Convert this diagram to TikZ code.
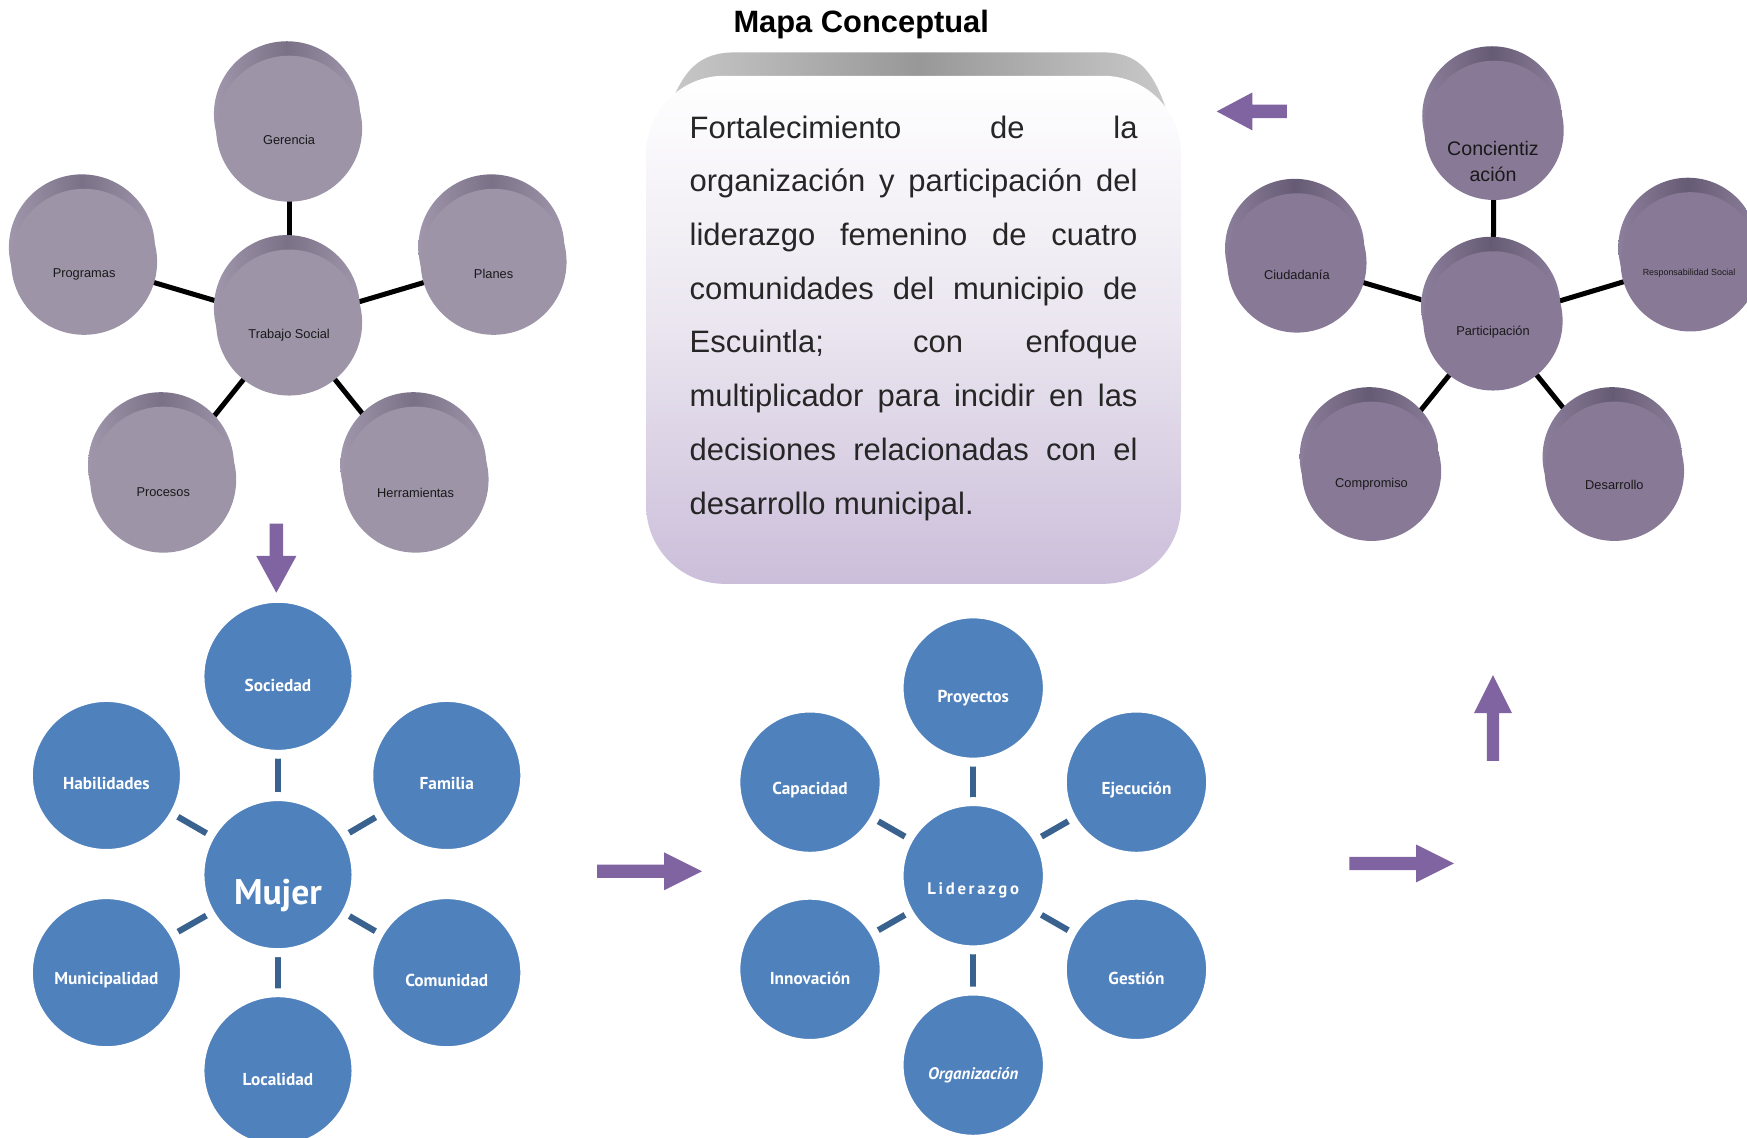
\documentclass[tikz,border=0pt]{standalone}
\usepackage{fontspec}
\setmainfont{Liberation Sans}
\newfontfamily\ptsans{PT Sans}
\usetikzlibrary{calc}
\pgfdeclarelayer{background}
\pgfsetlayers{background,main}
\definecolor{tlface}{RGB}{157,148,168}
\definecolor{tlext}{RGB}{122,113,135}
\definecolor{tledge}{RGB}{160,151,172}
\definecolor{trface}{RGB}{136,122,151}
\definecolor{trext}{RGB}{102,91,116}
\definecolor{tredge}{RGB}{140,127,156}
\definecolor{bluec}{RGB}{79,129,189}
\definecolor{barc}{RGB}{58,98,143}
\definecolor{arrowc}{RGB}{128,100,162}
\definecolor{boxbot}{RGB}{203,190,218}
\definecolor{boxmid}{RGB}{234,229,239}
\definecolor{tabc}{RGB}{152,152,152}
\definecolor{tabl}{RGB}{200,200,200}
\newcommand\cyl[5]{%
  \shade[left color=#5edge, right color=#5edge, middle color=#5ext] (#2-2,#3-13) circle[radius=#4];
  \node[circle, fill=#5face, minimum size=2*#4] (#1) at (#2,#3) {};
}
\begin{document}
\begin{tikzpicture}[x=1pt,y=-1pt,
  every node/.style={inner sep=0pt,outer sep=0pt},
  tltext/.style={text=black!90, font=\fontsize{11.5}{13}\selectfont},
  bl/.style={circle, fill=bluec, draw=white, line width=8pt, minimum size=140pt},
  bm/.style={circle, fill=bluec, draw=white, line width=8pt, minimum size=133pt},
  bltext/.style={text=white, font=\ptsans\bfseries\fontsize{15.5}{18}\selectfont},
  blackline/.style={line width=4.5pt, black},
  bar/.style={line width=5.5pt, barc},
  blockarrow/.style={fill=arrowc},
  bodytext/.style={anchor=base west, text=black!85, font=\fontsize{27.8}{30}\selectfont}]
\useasboundingbox (0,0) rectangle (1568,1021);

% ---------------- title and central box ----------------
\node[font=\fontsize{27.7}{30}\selectfont\bfseries] (title) at (773,22) {Mapa Conceptual};
\shade[left color=tabl, right color=tabl, middle color=tabc]
  (601,96) .. controls (614,62) and (628,47) .. (660,47) -- (990,47)
  .. controls (1020,47) and (1034,62) .. (1046,96) -- (1046,140) -- (601,140) -- cycle;
\node[rectangle, rounded corners=70pt, minimum width=480pt, minimum height=456pt,
      top color=white, bottom color=boxbot, middle color=boxmid] (box) at (820,296) {};
\node[bodytext] (l1) at (619,124) {\makebox[402pt][s]{Fortalecimiento de la}};
\node[bodytext] (l2) at (619,172.2) {\makebox[402pt][s]{organización y participación del}};
\node[bodytext] (l3) at (619,220.4) {\makebox[402pt][s]{liderazgo femenino de cuatro}};
\node[bodytext] (l4) at (619,268.6) {\makebox[402pt][s]{comunidades del municipio de}};
\node[bodytext] (l5) at (619,316.8) {\makebox[402pt][s]{Escuintla; con enfoque}};
\node[bodytext] (l6) at (619,365) {\makebox[402pt][s]{multiplicador para incidir en las}};
\node[bodytext] (l7) at (619,413.2) {\makebox[402pt][s]{decisiones relacionadas con el}};
\node[bodytext] (l8) at (619,461.4) {desarrollo municipal.};

% ---------------- top-left cluster ----------------
\cyl{ger}{259.5}{115.5}{65.5}{tl}
\cyl{prg}{75.5}{235}{65.5}{tl}
\cyl{pla}{443}{235}{65.5}{tl}
\cyl{ts}{259.5}{289.5}{65.5}{tl}
\cyl{pro}{146.5}{430.5}{65.5}{tl}
\cyl{her}{373}{430.5}{65.5}{tl}
\node[tltext] (gert) at (259.5,126) {Gerencia};
\node[tltext] (prgt) at (75.5,246) {Programas};
\node[tltext] (plat) at (443,246) {Planes};
\node[tltext] (tst) at (259.5,301) {Trabajo Social};
\node[tltext] (prot) at (146.5,442) {Procesos};
\node[tltext] (hert) at (373,442) {Herramientas};
\begin{pgfonlayer}{background}
  \foreach \n in {ger,prg,pla,pro,her} \draw[blackline] (ts.center) -- (\n.center);
\end{pgfonlayer}

% ---------------- top-right cluster ----------------
\cyl{con}{1341}{117}{62.5}{tr}
\cyl{ciu}{1164}{236}{62.5}{tr}
\cyl{res}{1517}{235}{62.5}{tr}
\cyl{par}{1340}{288}{62.5}{tr}
\cyl{com}{1231}{423}{62.5}{tr}
\cyl{des}{1449}{423}{62.5}{tr}
\node[align=center, text=black!90, font=\fontsize{17.6}{24}\selectfont] (cont) at (1340,145) {Concientiz\\ación};
\node[tltext] (ciut) at (1164,247) {Ciudadanía};
\node[text=black!90, font=\fontsize{8}{9}\selectfont] (rest) at (1516,245) {Responsabilidad Social};
\node[tltext] (part) at (1340,298) {Participación};
\node[tltext] (comt) at (1231,435) {Compromiso};
\node[tltext] (dest) at (1449,435) {Desarrollo};
\begin{pgfonlayer}{background}
  \foreach \n in {con,ciu,res,com,des} \draw[blackline] (par.center) -- (\n.center);
\end{pgfonlayer}

% ---------------- bottom-left cluster ----------------
\node[bl] (soc) at (249.5,607) {};
\node[bl] (hab) at (95.5,696) {};
\node[bl] (fam) at (401,696) {};
\node[bl] (muj) at (249.5,785) {};
\node[bl] (mun) at (95.5,873) {};
\node[bl] (comu) at (401,873) {};
\node[bl] (loc) at (249.5,961) {};
\node[bltext] (soct) at (249.5,615) {Sociedad};
\node[bltext] (habt) at (95.5,703) {Habilidades};
\node[bltext] (famt) at (401,703) {Familia};
\node[text=white, font=\ptsans\bfseries\fontsize{32}{36}\selectfont] (mujt) at (249.5,804) {Mujer};
\node[bltext] (munt) at (95.5,880) {Municipalidad};
\node[bltext] (comut) at (401,880) {Comunidad};
\node[bltext] (loct) at (249.5,969) {Localidad};
\begin{pgfonlayer}{background}
  \foreach \n in {soc,hab,fam,mun,comu,loc} \draw[bar] (muj.center) -- (\n.center);
\end{pgfonlayer}

% ---------------- bottom-middle cluster ----------------
\node[bm] (proy) at (873.5,617.5) {};
\node[bm] (cap) at (727,702) {};
\node[bm] (eje) at (1020,702) {};
\node[bm] (lid) at (873.5,786) {};
\node[bm] (inn) at (727,870) {};
\node[bm] (ges) at (1020,870) {};
\node[bm] (org) at (873.5,956) {};
\node[bltext] (proyt) at (873.5,627) {Proyectos};
\node[bltext] (capt) at (727,709) {Capacidad};
\node[bltext] (ejet) at (1020,709) {Ejecución};
\node[bltext, font=\ptsans\bfseries\fontsize{15}{18}\selectfont\addfontfeature{LetterSpace=16}] (lidt) at (873.5,799) {Liderazgo};
\node[bltext] (innt) at (727,878) {Innovación};
\node[bltext] (gest) at (1020,878) {Gestión};
\node[bltext, font=\ptsans\bfseries\itshape\fontsize{15}{18}\selectfont] (orgt) at (873.5,965) {Organización};
\begin{pgfonlayer}{background}
  \foreach \n in {proy,cap,eje,inn,ges,org} \draw[bar] (lid.center) -- (\n.center);
\end{pgfonlayer}

% ---------------- block arrows ----------------
\fill[blockarrow] (242,470) -- (254,470) -- (254,499) -- (266,499) -- (248,532) -- (230,499) -- (242,499) -- cycle;
\fill[blockarrow] (536,776) -- (596,776) -- (596,765) -- (630,782) -- (596,799) -- (596,788) -- (536,788) -- cycle;
\fill[blockarrow] (1211,769) -- (1271,769) -- (1271,758) -- (1305,775) -- (1271,792) -- (1271,781) -- (1211,781) -- cycle;
\fill[blockarrow] (1334.5,683) -- (1334.5,640) -- (1323,640) -- (1340,606) -- (1357,640) -- (1345.5,640) -- (1345.5,683) -- cycle;
\fill[blockarrow] (1155,94) -- (1124,94) -- (1124,83) -- (1092,100) -- (1124,117) -- (1124,106) -- (1155,106) -- cycle;
\end{tikzpicture}
\end{document}
